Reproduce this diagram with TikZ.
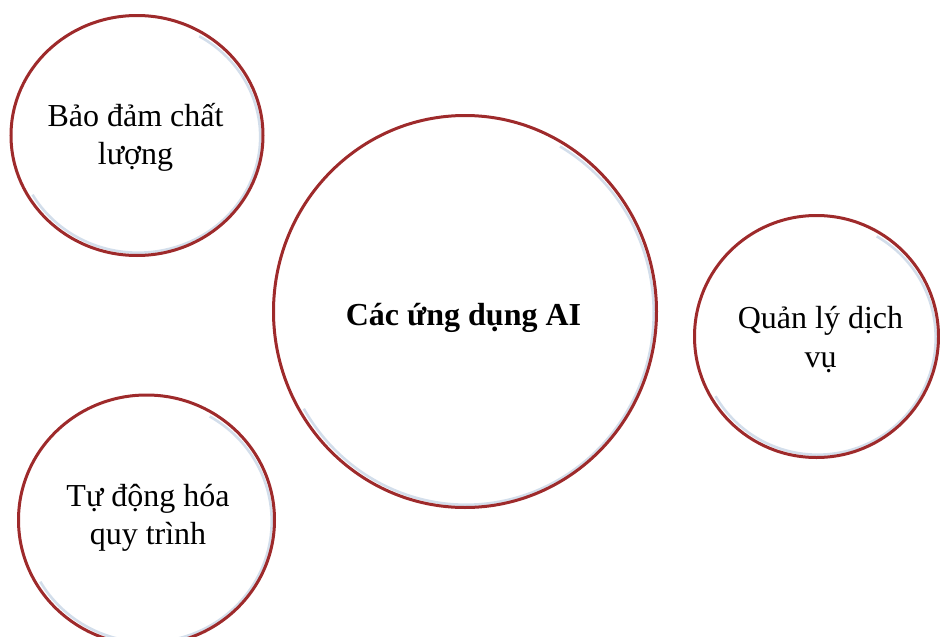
\documentclass[tikz,border=0pt]{standalone}
\usepackage{fontspec}
\setmainfont{Liberation Serif}
\usetikzlibrary{shapes.geometric}
\definecolor{ringred}{HTML}{9E2A2B}
\definecolor{ringshade}{HTML}{D3DEEB}
\tikzset{
  bubble/.style={ellipse, draw=ringred, line width=3pt, inner sep=0pt},
  shade/.style={draw=ringshade, line width=2.6pt},
  label/.style={font=\fontsize{32}{38.5}\selectfont, align=center, inner sep=0pt, anchor=base},
  title/.style={font=\fontsize{32}{38.5}\selectfont\bfseries, inner sep=0pt, anchor=base}
}
\begin{document}
\begin{tikzpicture}[x=1pt, y=-1pt]
\useasboundingbox (0,0) rectangle (940,637);
% inner shading (drawn first, under the rings)
\foreach \cx/\cy/\rx/\ry in {137/135.5/122/116, 465/311.5/187.5/192, 816.5/336.5/118/117, 146.5/520/124/121}{
  \draw[shade] ({\cx+1.2+\rx*cos(-60)},{\cy+1.2+\ry*sin(-60)}) arc [start angle=-60, end angle=150, x radius=\rx, y radius=\ry];
}
% rings
\node[bubble, minimum width=252pt, minimum height=240pt] (q) at (137,135.5) {};
\node[bubble, minimum width=383pt, minimum height=392pt] (c) at (465,311.5) {};
\node[bubble, minimum width=244pt, minimum height=242pt] (s) at (816.5,336.5) {};
\node[bubble, minimum width=256pt, minimum height=250pt] (p) at (146.5,520) {};
% texts
\node[label] (tq) at (135.5,164.5) {Bảo đảm chất\\lượng};
\node[title] (tc) at (463.5,325) {Các ứng dụng AI};
\node[label] (ts) at (820.5,367) {Quản lý dịch\\vụ};
\node[label] (tp) at (148,544.5) {Tự động hóa\\quy trình};
\end{tikzpicture}
\end{document}
